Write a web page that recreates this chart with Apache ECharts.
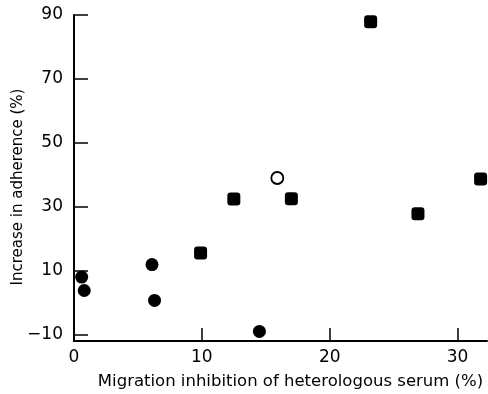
<!DOCTYPE html>
<html>
<head>
<meta charset="utf-8">
<script src="https://cdn.jsdelivr.net/npm/echarts@6/dist/echarts.min.js"></script>
<style>
  html, body { margin: 0; padding: 0; background: #fff; }
  #chart { width: 488px; height: 394px; }
</style>
</head>
<body>
<div id="chart"></div>
<script>
// data
var filledCircles = [[0.6, 8.0], [0.8, 3.8], [6.1, 11.9], [6.3, 0.7], [14.5, -9.0]];
var filledSquares = [[9.9, 15.5], [12.5, 32.4], [17.0, 32.5], [23.2, 87.9], [26.9, 27.8], [31.8, 38.7]];
var openCircles = [[15.9, 39.0]];
var yTicks = [-10, 10, 30, 50, 70, 90];
var xTicks = [0, 10, 20, 30];

var font = 'DejaVu Sans';

var chart = echarts.init(document.getElementById('chart'));
chart.setOption({
    animation: false,
    backgroundColor: '#fff',
    grid: {
        left: 74,
        right: 1,
        top: 15,
        bottom: 53,
        containLabel: false,
        outerBoundsMode: 'none'
    },
    xAxis: {
        type: 'value',
        min: 0,
        max: 32.3,
        name: 'Migration inhibition of heterologous serum (%)',
        nameLocation: 'middle',
        nameGap: 32,
        nameMoveOverlap: false,
        nameTextStyle: {
            color: '#000',
            fontFamily: font,
            fontSize: 16.5,
            padding: [0, 0, 0, 20]
        },
        axisLine: { onZero: false, lineStyle: { color: '#000', width: 2 } },
        axisTick: {
            inside: true,
            length: 13,
            customValues: [10, 20, 30],
            lineStyle: { color: '#000', width: 1.5 }
        },
        axisLabel: {
            customValues: xTicks,
            color: '#000',
            fontFamily: font,
            fontSize: 17,
            margin: 8
        },
        splitLine: { show: false }
    },
    yAxis: {
        type: 'value',
        min: -12,
        max: 90,
        name: 'Increase in adherence (%)',
        nameLocation: 'middle',
        nameGap: 48,
        nameMoveOverlap: false,
        nameTextStyle: {
            color: '#000',
            fontFamily: font,
            fontSize: 15,
            padding: [0, 18, 0, 0]
        },
        axisLine: { onZero: false, lineStyle: { color: '#000', width: 2 } },
        axisTick: {
            inside: true,
            length: 14,
            customValues: yTicks,
            lineStyle: { color: '#000', width: 1.5 }
        },
        axisLabel: {
            customValues: yTicks,
            color: '#000',
            fontFamily: font,
            fontSize: 17,
            margin: 11,
            formatter: function (v) {
                return String(v).replace('-', '\u2212');
            }
        },
        splitLine: { show: false }
    },
    series: [
        {
            name: 'filled circles',
            type: 'scatter',
            symbol: 'circle',
            symbolSize: 13,
            itemStyle: { color: '#000', opacity: 1 },
            data: filledCircles
        },
        {
            name: 'filled squares',
            type: 'scatter',
            symbol: 'roundRect',
            symbolSize: 13,
            itemStyle: { color: '#000', opacity: 1 },
            data: filledSquares
        },
        {
            name: 'open circles',
            type: 'scatter',
            symbol: 'circle',
            symbolSize: 12,
            itemStyle: { color: '#fff', borderColor: '#000', borderWidth: 1.8, opacity: 1 },
            data: openCircles
        }
    ]
});
</script>
</body>
</html>
